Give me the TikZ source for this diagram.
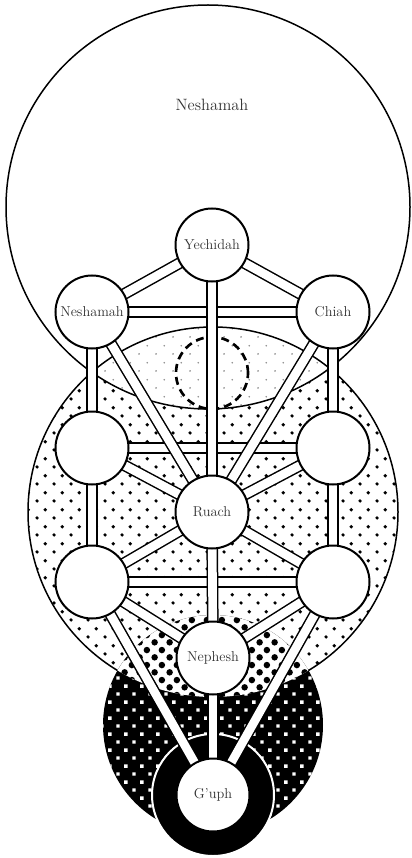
\documentclass[tikz,border=0pt]{standalone}
\usepackage{fontspec}
\usepackage{tikz}
\usetikzlibrary{patterns}
\pgfdeclarelayer{back}
\pgfsetlayers{back,main}
% dot grids for the spheres
\pgfdeclarepatternformonly{ruach dots}{\pgfpointorigin}{\pgfqpoint{14.2pt}{14.2pt}}{\pgfqpoint{14.2pt}{14.2pt}}{
  \pgfpathcircle{\pgfqpoint{3.55pt}{3.55pt}}{1.6pt}
  \pgfpathcircle{\pgfqpoint{10.65pt}{10.65pt}}{1.6pt}
  \pgfusepath{fill}}
\pgfdeclarepatternformonly{lens dots}{\pgfpointorigin}{\pgfqpoint{14.2pt}{14.2pt}}{\pgfqpoint{14.2pt}{14.2pt}}{
  \pgfpathcircle{\pgfqpoint{3.55pt}{3.55pt}}{0.8pt}
  \pgfpathcircle{\pgfqpoint{10.65pt}{10.65pt}}{0.8pt}
  \pgfusepath{fill}}
\pgfdeclarepatternformonly{nephesh dots}{\pgfpointorigin}{\pgfqpoint{13pt}{13pt}}{\pgfqpoint{13pt}{13pt}}{
  \pgfpathcircle{\pgfqpoint{3.25pt}{3.25pt}}{2.9pt}
  \pgfpathcircle{\pgfqpoint{9.75pt}{9.75pt}}{2.9pt}
  \pgfusepath{fill}}
\pgfdeclarepatternformonly{nephesh squares}{\pgfpointorigin}{\pgfqpoint{14pt}{14pt}}{\pgfqpoint{14pt}{14pt}}{
  \pgfpathrectangle{\pgfqpoint{2pt}{2pt}}{\pgfqpoint{3pt}{3pt}}
  \pgfpathrectangle{\pgfqpoint{9pt}{9pt}}{\pgfqpoint{3pt}{3pt}}
  \pgfusepath{fill}}

\begin{document}
\begin{tikzpicture}[x=0.3mm, y=0.3mm,
	sephira/.style={circle, draw, fill=white, line width=0.6mm, minimum size=73*0.3mm, inner sep=0pt, text=black!80, font=\fontsize{12.2}{14}\selectfont},
	channel/.style={draw=black, double=white, line width=0.45mm, double distance=2.6mm},
	sphere/.style={line width=0.45mm}
	]
	\useasboundingbox (0,0) rectangle (411,-858);
	% Sephiroth
	\node[sephira] (Y) at (212,-245) {Yechidah};
	\node[sephira] (N) at (92,-312) {Neshamah};
	\node[sephira] (C) at (333,-312) {Chiah};
	\node[sephira] (L1) at (92,-448) {};
	\node[sephira] (R1) at (333,-448) {};
	\node[sephira] (T) at (212,-512) {Ruach};
	\node[sephira] (L2) at (92,-582) {};
	\node[sephira] (R2) at (333,-582) {};
	\node[sephira] (Ne) at (213,-658) {Nephesh};
	\node[sephira] (G) at (213,-795) {G'uph};
	\node[text=black!80, font=\fontsize{14}{16}\selectfont] (top) at (212,-105) {Neshamah};
	\begin{pgfonlayer}{back}
	% Spheres
	\fill[white] (208,-207) circle (202);
	\fill[pattern=ruach dots] (213,-512) circle (185);
	\begin{scope}
		\clip (208,-207) circle (202);
		\fill[white] (213,-512) circle (185);
		\fill[pattern=lens dots, pattern color=black!45] (213,-512) circle (185);
	\end{scope}
	\draw[sphere] (208,-207) circle (202);
	\draw[sphere] (213,-512) circle (185);
	\fill[black] (213,-725) circle (110);
	\fill[pattern=nephesh squares, pattern color=white] (213,-725) circle (110);
	\begin{scope}
		\clip (213,-512) circle (185);
		\fill[white] (213,-725) circle (110);
		\fill[pattern=nephesh dots] (213,-725) circle (110);
	\end{scope}
	\draw[white, fill=black, line width=0.6mm] (G.center) circle (61);
	% Daath
	\draw[line width=0.8mm, dash pattern=on 2.4mm off 1.5mm] (212,-373) circle (36);
	% Paths
	\path[every edge/.style={channel}]
	(N.center) edge (C.center)
	(L1.center) edge (R1.center)
	(L2.center) edge (R2.center)
	(Y.center) edge (N.center)
	(Y.center) edge (C.center)
	(N.center) edge (T.center)
	(C.center) edge (T.center)
	(L1.center) edge (T.center)
	(R1.center) edge (T.center)
	(L2.center) edge (T.center)
	(R2.center) edge (T.center)
	(L2.center) edge (Ne.center)
	(R2.center) edge (Ne.center)
	(L2.center) edge (G.center)
	(R2.center) edge (G.center)
	(N.center) edge (L1.center)
	(C.center) edge (R1.center)
	(L1.center) edge (L2.center)
	(R1.center) edge (R2.center)
	(Y.center) edge (T.center)
	(T.center) edge (Ne.center)
	(Ne.center) edge (G.center);
	\end{pgfonlayer}
\end{tikzpicture}
\end{document}
